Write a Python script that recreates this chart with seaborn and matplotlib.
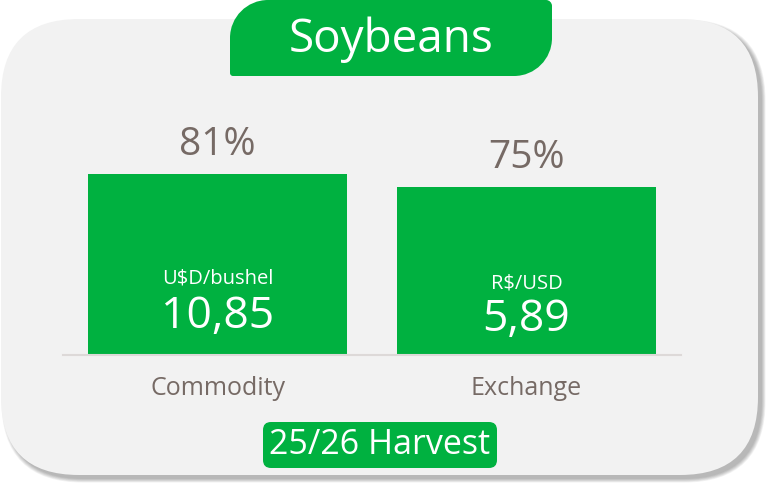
import matplotlib
matplotlib.use("Agg")
import matplotlib.pyplot as plt
import seaborn as sns
import pandas as pd
from matplotlib.patches import FancyBboxPatch, PathPatch
from matplotlib.path import Path

# --- data -------------------------------------------------------------
categories = ["Commodity", "Exchange"]
shares = [81, 75]                      # percent shown above each bar
units = ["U$D/bushel", "R$/USD"]
prices = ["10,85", "5,89"]
title = "Soybeans"
footer = "25/26 Harvest"

GREEN = "#00B140"
TEXT = "#766A65"
CARD = "#F2F2F2"
FONT = "Open Sans"

sns.set_theme(style="white")
plt.rcParams["font.family"] = [FONT, "DejaVu Sans"]

W, H = 769, 483
fig = plt.figure(figsize=(W / 100, H / 100), dpi=100)
fig.patch.set_facecolor("white")

# background layer in pixel coordinates (y grows downward)
bg = fig.add_axes([0, 0, 1, 1], zorder=0)
bg.set_xlim(0, W)
bg.set_ylim(H, 0)
bg.axis("off")

# card shadow
cx, cy, cw, ch, cr = 1, 19, 757, 456, 78
for i in range(7):
    bg.add_patch(FancyBboxPatch((cx + 4 - i * 0.6, cy + 4 - i * 0.6), cw + i * 1.2, ch + i * 1.2,
                                boxstyle=f"round,pad=0,rounding_size={cr + i * 0.6}",
                                fc="#000000", ec="none", alpha=0.045))
# card
bg.add_patch(FancyBboxPatch((cx, cy), cw, ch, boxstyle=f"round,pad=0,rounding_size={cr}",
                            fc=CARD, ec="none"))


def corner_path(x0, y0, x1, y1, r_tl, r_tr, r_br, r_bl):
    k = 0.5523
    v = [(x0 + r_tl, y0), (x1 - r_tr, y0),
         (x1 - r_tr + k * r_tr, y0), (x1, y0 + r_tr - k * r_tr), (x1, y0 + r_tr),
         (x1, y1 - r_br),
         (x1, y1 - r_br + k * r_br), (x1 - r_br + k * r_br, y1), (x1 - r_br, y1),
         (x0 + r_bl, y1),
         (x0 + r_bl - k * r_bl, y1), (x0, y1 - r_bl + k * r_bl), (x0, y1 - r_bl),
         (x0, y0 + r_tl),
         (x0, y0 + r_tl - k * r_tl), (x0 + r_tl - k * r_tl, y0), (x0 + r_tl, y0),
         (x0 + r_tl, y0)]
    c = [Path.MOVETO, Path.LINETO,
         Path.CURVE4, Path.CURVE4, Path.CURVE4,
         Path.LINETO,
         Path.CURVE4, Path.CURVE4, Path.CURVE4,
         Path.LINETO,
         Path.CURVE4, Path.CURVE4, Path.CURVE4,
         Path.LINETO,
         Path.CURVE4, Path.CURVE4, Path.CURVE4,
         Path.CLOSEPOLY]
    return Path(v, c)


# title tab
bg.add_patch(PathPatch(corner_path(230, 0, 552, 76, 38, 6, 38, 3), fc=GREEN, ec="none"))
bg.text(391, 40, title, ha="center", va="center", color="white", fontsize=33)

# footer badge
bg.add_patch(FancyBboxPatch((263, 422), 234, 46, boxstyle="round,pad=0,rounding_size=8",
                            fc=GREEN, ec="none"))
bg.text(380, 445, footer, ha="center", va="center", color="white", fontsize=24.5)

# --- bar chart ---------------------------------------------------------
left, right, base = 63, 681, 355
px_per_unit = 2.235
top = base - 100 * px_per_unit
ax = fig.add_axes([left / W, (H - base) / H, (right - left) / W, (base - top) / H], zorder=1)
ax.patch.set_alpha(0)

df = pd.DataFrame({"category": categories, "share": shares})
sns.barplot(data=df, x="category", y="share", color=GREEN, saturation=1, width=0.838,
            ax=ax, edgecolor="none")
ax.set_xlim(-0.5, 1.5)
ax.set_ylim(0, 100)
ax.set_xlabel("")
ax.set_ylabel("")
ax.set_yticks([])
for s in ["top", "left", "right"]:
    ax.spines[s].set_visible(False)
ax.spines["bottom"].set_color("#DDD9D8")
ax.spines["bottom"].set_linewidth(1.5)
ax.tick_params(axis="x", length=0, pad=15, labelsize=18, labelcolor=TEXT)

for i, (v, u, p) in enumerate(zip(shares, units, prices)):
    ax.annotate(f"{v}%", (i, v), xytext=(0, 21), textcoords="offset points",
                ha="center", va="center", fontsize=28, color=TEXT)
    ax.text(i, v * 0.425, u, ha="center", va="center", fontsize=14.5, color="white")
    ax.text(i, v * 0.21, p, ha="center", va="center", fontsize=32, color="white")

fig.savefig("out.png", dpi=100)
